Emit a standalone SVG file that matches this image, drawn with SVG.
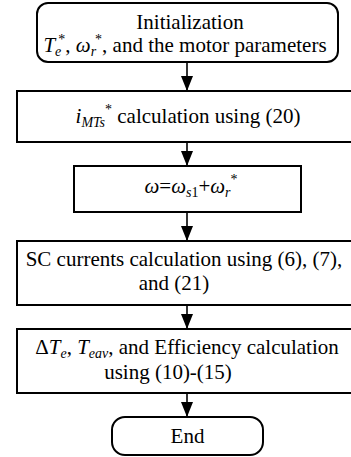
<svg xmlns="http://www.w3.org/2000/svg" width="351" height="457" viewBox="0 0 351 457">
  <defs>
    <marker id="arrow" viewBox="0 0 15 12" refX="15" refY="6" markerWidth="15" markerHeight="12" markerUnits="userSpaceOnUse" orient="auto">
      <path d="M0,0 L15,6 L0,12 Z" fill="#000"/>
    </marker>
    <style>
      .box { fill: #fff; stroke: #000; stroke-width: 2; }
      .t { font-family: "Liberation Serif", "DejaVu Serif", serif; font-size: 21px; fill: #000; text-anchor: middle; }
      .i { font-style: italic; }
      .s { font-size: 14px; }
      .edge { stroke: #000; stroke-width: 1.6; fill: none; marker-end: url(#arrow); }
    </style>
  </defs>
  <rect width="351" height="457" fill="#fff"/>

  <g id="connectors">
    <line class="edge" x1="187" y1="62" x2="187" y2="91"/>
    <line class="edge" x1="187" y1="142" x2="187" y2="166"/>
    <line class="edge" x1="187" y1="212" x2="187" y2="241"/>
    <line class="edge" x1="187" y1="305" x2="187" y2="329"/>
    <line class="edge" x1="187" y1="393" x2="187" y2="417"/>
  </g>

  <g id="init">
    <rect class="box" x="37" y="3" width="301" height="59" rx="11"/>
    <text class="t" x="190" y="29">Initialization</text>
    <text class="t" x="185" y="52"><tspan class="i">T</tspan><tspan class="i s" dy="4">e</tspan><tspan class="s" dy="-12" dx="-3">*</tspan><tspan dy="8">, </tspan><tspan class="i">ω</tspan><tspan class="i s" dy="4">r</tspan><tspan class="s" dy="-12" dx="-1">*</tspan><tspan dy="8">, and the motor parameters</tspan></text>
  </g>

  <g id="imts">
    <rect class="box" x="17" y="91" width="340" height="51"/>
    <text class="t" x="188" y="123"><tspan class="i">i</tspan><tspan class="i s" dy="4">MTs</tspan><tspan class="s" dy="-13">*</tspan><tspan dy="9"> calculation using (20)</tspan></text>
  </g>

  <g id="omega">
    <rect class="box" x="74" y="166" width="227" height="46"/>
    <text class="t" x="191" y="193"><tspan class="i">ω</tspan>=<tspan class="i">ω</tspan><tspan class="i s" dy="4">s</tspan><tspan class="s">1</tspan><tspan dy="-4">+</tspan><tspan class="i">ω</tspan><tspan class="i s" dy="4">r</tspan><tspan class="s" dy="-13">*</tspan></text>
  </g>

  <g id="sc-currents">
    <rect class="box" x="17" y="241" width="340" height="64"/>
    <text class="t" x="184" y="266">SC currents calculation using (6), (7),</text>
    <text class="t" x="174" y="290">and (21)</text>
  </g>

  <g id="efficiency">
    <rect class="box" x="17" y="329" width="340" height="64"/>
    <text class="t" x="187" y="354">Δ<tspan class="i">T</tspan><tspan class="i s" dy="4">e</tspan><tspan dy="-4">, </tspan><tspan class="i">T</tspan><tspan class="i s" dy="4">eav</tspan><tspan dy="-4">, and Efficiency calculation</tspan></text>
    <text class="t" x="168" y="379">using (10)-(15)</text>
  </g>

  <g id="end">
    <rect class="box" x="112" y="417" width="151" height="38" rx="13"/>
    <text class="t" x="187.5" y="443">End</text>
  </g>
</svg>
